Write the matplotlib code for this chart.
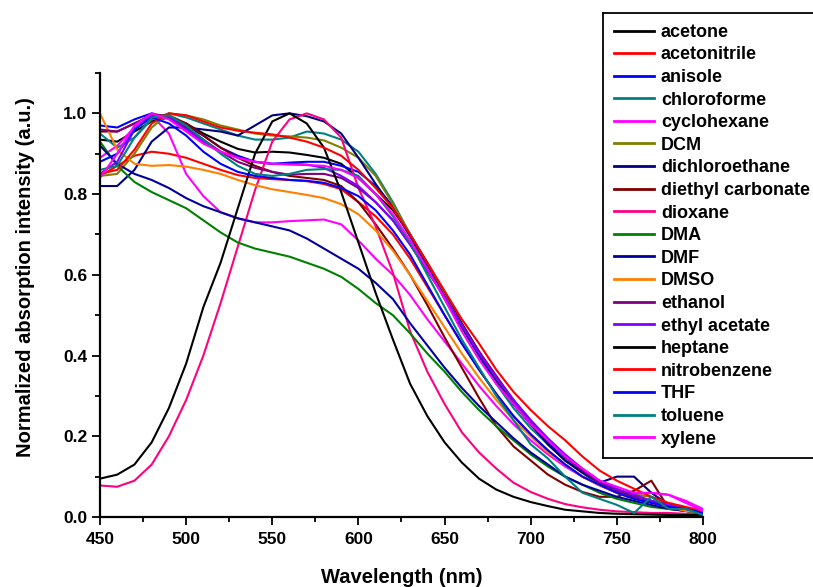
import matplotlib
matplotlib.use("Agg")
import matplotlib.pyplot as plt
from matplotlib.lines import Line2D
from matplotlib.ticker import MultipleLocator, FormatStrFormatter

plt.rcParams['font.family'] = ['Liberation Sans', 'DejaVu Sans']
plt.rcParams['font.weight'] = 'bold'

wavelength = [450, 460, 470, 480, 490, 500, 510, 520, 530, 540, 550, 560, 570, 580, 590, 600, 610, 620,
              630, 640, 650, 660, 670, 680, 690, 700, 710, 720, 730, 740, 750, 760, 770, 780, 790, 800]

acetone = [0.935, 0.930, 0.955, 0.980, 0.990, 0.975, 0.950, 0.930, 0.912, 0.903, 0.905, 0.903, 0.897, 0.890, 0.875, 0.840, 0.800, 0.760,
           0.700, 0.630, 0.555, 0.480, 0.410, 0.340, 0.280, 0.230, 0.180, 0.140, 0.110, 0.080, 0.060, 0.045, 0.035, 0.025, 0.015, 0.010]
acetonitrile = [0.845, 0.870, 0.895, 0.905, 0.900, 0.890, 0.875, 0.860, 0.847, 0.840, 0.837, 0.835, 0.832, 0.825, 0.812, 0.780, 0.745, 0.700,
                0.640, 0.570, 0.500, 0.430, 0.365, 0.305, 0.250, 0.205, 0.165, 0.130, 0.100, 0.078, 0.060, 0.047, 0.036, 0.026, 0.018, 0.010]
anisole = [0.970, 0.965, 0.985, 1.000, 0.990, 0.970, 0.945, 0.915, 0.895, 0.880, 0.875, 0.878, 0.880, 0.880, 0.870, 0.855, 0.820, 0.770,
           0.700, 0.625, 0.550, 0.475, 0.400, 0.335, 0.280, 0.230, 0.185, 0.148, 0.115, 0.088, 0.068, 0.052, 0.040, 0.030, 0.020, 0.010]
chloroforme = [0.950, 0.915, 0.940, 0.985, 1.000, 0.990, 0.975, 0.960, 0.945, 0.935, 0.935, 0.940, 0.955, 0.950, 0.935, 0.905, 0.850, 0.780,
               0.700, 0.620, 0.540, 0.470, 0.400, 0.330, 0.270, 0.220, 0.180, 0.140, 0.110, 0.082, 0.062, 0.047, 0.036, 0.026, 0.018, 0.010]
cyclohexane = [0.890, 0.920, 0.965, 0.995, 0.950, 0.850, 0.795, 0.755, 0.740, 0.730, 0.730, 0.733, 0.735, 0.737, 0.725, 0.685, 0.640, 0.600,
               0.550, 0.490, 0.435, 0.380, 0.325, 0.275, 0.230, 0.190, 0.155, 0.125, 0.100, 0.080, 0.066, 0.056, 0.060, 0.055, 0.040, 0.020]
DCM = [0.845, 0.850, 0.900, 0.965, 1.000, 0.995, 0.985, 0.970, 0.960, 0.950, 0.945, 0.943, 0.940, 0.933, 0.915, 0.890, 0.845, 0.775,
       0.700, 0.625, 0.550, 0.475, 0.405, 0.345, 0.290, 0.240, 0.190, 0.150, 0.115, 0.085, 0.065, 0.055, 0.050, 0.030, 0.020, 0.010]
dichloroethane = [0.820, 0.820, 0.860, 0.930, 0.965, 0.965, 0.960, 0.955, 0.945, 0.970, 0.995, 1.000, 0.993, 0.980, 0.950, 0.890, 0.825, 0.765,
                  0.695, 0.620, 0.545, 0.470, 0.400, 0.335, 0.280, 0.230, 0.180, 0.140, 0.110, 0.085, 0.100, 0.100, 0.060, 0.030, 0.020, 0.010]
diethyl_carbonate = [0.955, 0.955, 0.975, 0.995, 0.995, 0.975, 0.945, 0.915, 0.890, 0.870, 0.855, 0.845, 0.840, 0.835, 0.820, 0.780, 0.725, 0.665,
                     0.600, 0.525, 0.445, 0.370, 0.295, 0.225, 0.175, 0.140, 0.105, 0.080, 0.062, 0.050, 0.050, 0.065, 0.090, 0.022, 0.015, 0.010]
dioxane = [0.078, 0.075, 0.090, 0.130, 0.200, 0.290, 0.400, 0.530, 0.670, 0.810, 0.930, 0.985, 1.000, 0.985, 0.940, 0.815, 0.720, 0.605,
           0.460, 0.360, 0.280, 0.210, 0.160, 0.120, 0.085, 0.062, 0.045, 0.032, 0.024, 0.018, 0.014, 0.012, 0.010, 0.010, 0.008, 0.008]
DMA = [0.930, 0.870, 0.830, 0.805, 0.785, 0.765, 0.735, 0.705, 0.680, 0.665, 0.655, 0.645, 0.630, 0.615, 0.595, 0.565, 0.530, 0.500,
       0.455, 0.405, 0.360, 0.310, 0.265, 0.225, 0.190, 0.155, 0.125, 0.100, 0.080, 0.060, 0.045, 0.035, 0.025, 0.020, 0.015, 0.010]
DMF = [0.920, 0.875, 0.850, 0.835, 0.815, 0.790, 0.770, 0.755, 0.740, 0.730, 0.720, 0.710, 0.690, 0.665, 0.640, 0.615, 0.580, 0.540,
       0.480, 0.425, 0.370, 0.320, 0.275, 0.235, 0.195, 0.160, 0.130, 0.100, 0.080, 0.065, 0.050, 0.040, 0.030, 0.020, 0.015, 0.010]
DMSO = [1.000, 0.910, 0.875, 0.870, 0.872, 0.868, 0.860, 0.850, 0.835, 0.822, 0.812, 0.805, 0.798, 0.790, 0.775, 0.750, 0.710, 0.660,
        0.600, 0.535, 0.470, 0.405, 0.345, 0.290, 0.240, 0.200, 0.160, 0.130, 0.100, 0.080, 0.060, 0.045, 0.035, 0.025, 0.015, 0.010]
ethanol = [0.960, 0.955, 0.975, 0.995, 0.990, 0.965, 0.935, 0.905, 0.880, 0.865, 0.855, 0.848, 0.850, 0.850, 0.840, 0.815, 0.780, 0.735,
           0.675, 0.610, 0.545, 0.475, 0.410, 0.350, 0.290, 0.235, 0.190, 0.150, 0.115, 0.085, 0.065, 0.050, 0.040, 0.030, 0.020, 0.010]
ethyl_acetate = [0.850, 0.880, 0.960, 0.995, 0.990, 0.960, 0.930, 0.905, 0.890, 0.880, 0.875, 0.875, 0.873, 0.865, 0.845, 0.820, 0.780, 0.735,
                 0.675, 0.610, 0.545, 0.475, 0.405, 0.345, 0.290, 0.240, 0.195, 0.155, 0.120, 0.090, 0.070, 0.055, 0.040, 0.030, 0.020, 0.010]
heptane = [0.095, 0.105, 0.130, 0.185, 0.270, 0.380, 0.520, 0.630, 0.765, 0.900, 0.980, 1.000, 0.975, 0.915, 0.805, 0.680, 0.555, 0.440,
           0.330, 0.250, 0.185, 0.135, 0.095, 0.068, 0.050, 0.037, 0.027, 0.018, 0.014, 0.010, 0.008, 0.007, 0.006, 0.005, 0.005, 0.005]
nitrobenzene = [0.850, 0.860, 0.910, 0.975, 1.000, 0.995, 0.980, 0.965, 0.957, 0.952, 0.948, 0.940, 0.930, 0.915, 0.895, 0.860, 0.815, 0.765,
                0.700, 0.630, 0.560, 0.490, 0.430, 0.365, 0.310, 0.265, 0.225, 0.190, 0.150, 0.115, 0.090, 0.070, 0.050, 0.035, 0.025, 0.015]
THF = [0.880, 0.900, 0.960, 0.990, 0.975, 0.945, 0.905, 0.875, 0.855, 0.845, 0.840, 0.835, 0.833, 0.828, 0.815, 0.795, 0.760, 0.710,
       0.650, 0.575, 0.500, 0.430, 0.365, 0.305, 0.250, 0.205, 0.165, 0.130, 0.100, 0.080, 0.060, 0.045, 0.035, 0.025, 0.020, 0.010]
toluene = [0.860, 0.870, 0.940, 0.990, 0.995, 0.970, 0.935, 0.900, 0.870, 0.850, 0.845, 0.850, 0.860, 0.862, 0.860, 0.845, 0.800, 0.745,
           0.680, 0.600, 0.520, 0.440, 0.370, 0.300, 0.240, 0.180, 0.145, 0.100, 0.060, 0.045, 0.030, 0.010, 0.050, 0.020, 0.020, 0.005]
xylene = [0.840, 0.900, 0.970, 1.000, 0.985, 0.955, 0.925, 0.905, 0.890, 0.880, 0.875, 0.873, 0.872, 0.870, 0.860, 0.840, 0.800, 0.750,
          0.685, 0.615, 0.540, 0.460, 0.390, 0.330, 0.280, 0.230, 0.190, 0.150, 0.120, 0.090, 0.075, 0.060, 0.060, 0.055, 0.035, 0.015]

labels = ['acetone', 'acetonitrile', 'anisole', 'chloroforme', 'cyclohexane', 'DCM', 'dichloroethane',
          'diethyl carbonate', 'dioxane', 'DMA', 'DMF', 'DMSO', 'ethanol', 'ethyl acetate', 'heptane',
          'nitrobenzene', 'THF', 'toluene', 'xylene']
series = [acetone, acetonitrile, anisole, chloroforme, cyclohexane, DCM, dichloroethane, diethyl_carbonate,
          dioxane, DMA, DMF, DMSO, ethanol, ethyl_acetate, heptane, nitrobenzene, THF, toluene, xylene]
colors = ['#000000', '#FF0000', '#0000FF', '#008080', '#FF00FF', '#808000', '#000080', '#800000',
          '#FF0080', '#008000', '#0000A0', '#FF8000', '#800080', '#8000FF', '#000000', '#FF0000',
          '#0000FF', '#008080', '#FF00FF']

fig = plt.figure(figsize=(8.13, 5.87), dpi=100)
ax = fig.add_axes([100 / 813, 1 - 517 / 587, 603 / 813, 444 / 587])

for lab, ys, c in zip(labels, series, colors):
    ax.plot(wavelength, ys, color=c, lw=1.5, label=lab)

ax.set_xlim(450, 800)
ax.set_ylim(0, 1.1)
ax.xaxis.set_major_locator(MultipleLocator(50))
ax.xaxis.set_minor_locator(MultipleLocator(25))
ax.yaxis.set_major_locator(MultipleLocator(0.2))
ax.yaxis.set_minor_locator(MultipleLocator(0.1))
ax.yaxis.set_major_formatter(FormatStrFormatter('%.1f'))

for s in ['top', 'right']:
    ax.spines[s].set_visible(False)
for s in ['left', 'bottom']:
    ax.spines[s].set_linewidth(1.6)

ax.tick_params(which='major', direction='out', length=6, width=1.3, labelsize=12.5)
ax.tick_params(axis='x', which='major', pad=5)
ax.tick_params(axis='y', which='major', pad=3)
ax.tick_params(which='minor', direction='out', length=3.5, width=1.3)
for t in ax.get_xticklabels() + ax.get_yticklabels():
    t.set_fontweight('bold')

ax.set_xlabel('Wavelength (nm)', fontsize=14.5, fontweight='bold', va='center')
ax.xaxis.set_label_coords(0.5, -0.137)
ax.set_ylabel('Normalized absorption intensity (a.u.)', fontsize=14.5, fontweight='bold', va='center')
ax.yaxis.set_label_coords(-0.124, 0.54)

leg = fig.legend(loc='upper left', bbox_to_anchor=(603 / 813, 1 - 13 / 587), borderaxespad=0,
                 prop={'size': 13, 'weight': 'bold'}, frameon=False,
                 handlelength=2.25, handletextpad=0.35, labelspacing=0.31, borderpad=0.6)
for line in leg.get_lines():
    line.set_linewidth(2.0)

# legend frame: top, left and bottom edges only; the box runs off the figure's right edge
fig.canvas.draw()
bb = leg.get_window_extent().transformed(fig.transFigure.inverted())
x_left = 603 / 813
y_top = 1 - 13 / 587
y_bot = bb.y0
for xs, ys in [([x_left, 1.0], [y_top, y_top]),
               ([x_left, x_left], [y_bot, y_top]),
               ([x_left, 1.0], [y_bot, y_bot])]:
    fig.add_artist(Line2D(xs, ys, transform=fig.transFigure, color='black', lw=1.3,
                          solid_capstyle='projecting'))

fig.savefig('out.png', dpi=100)
